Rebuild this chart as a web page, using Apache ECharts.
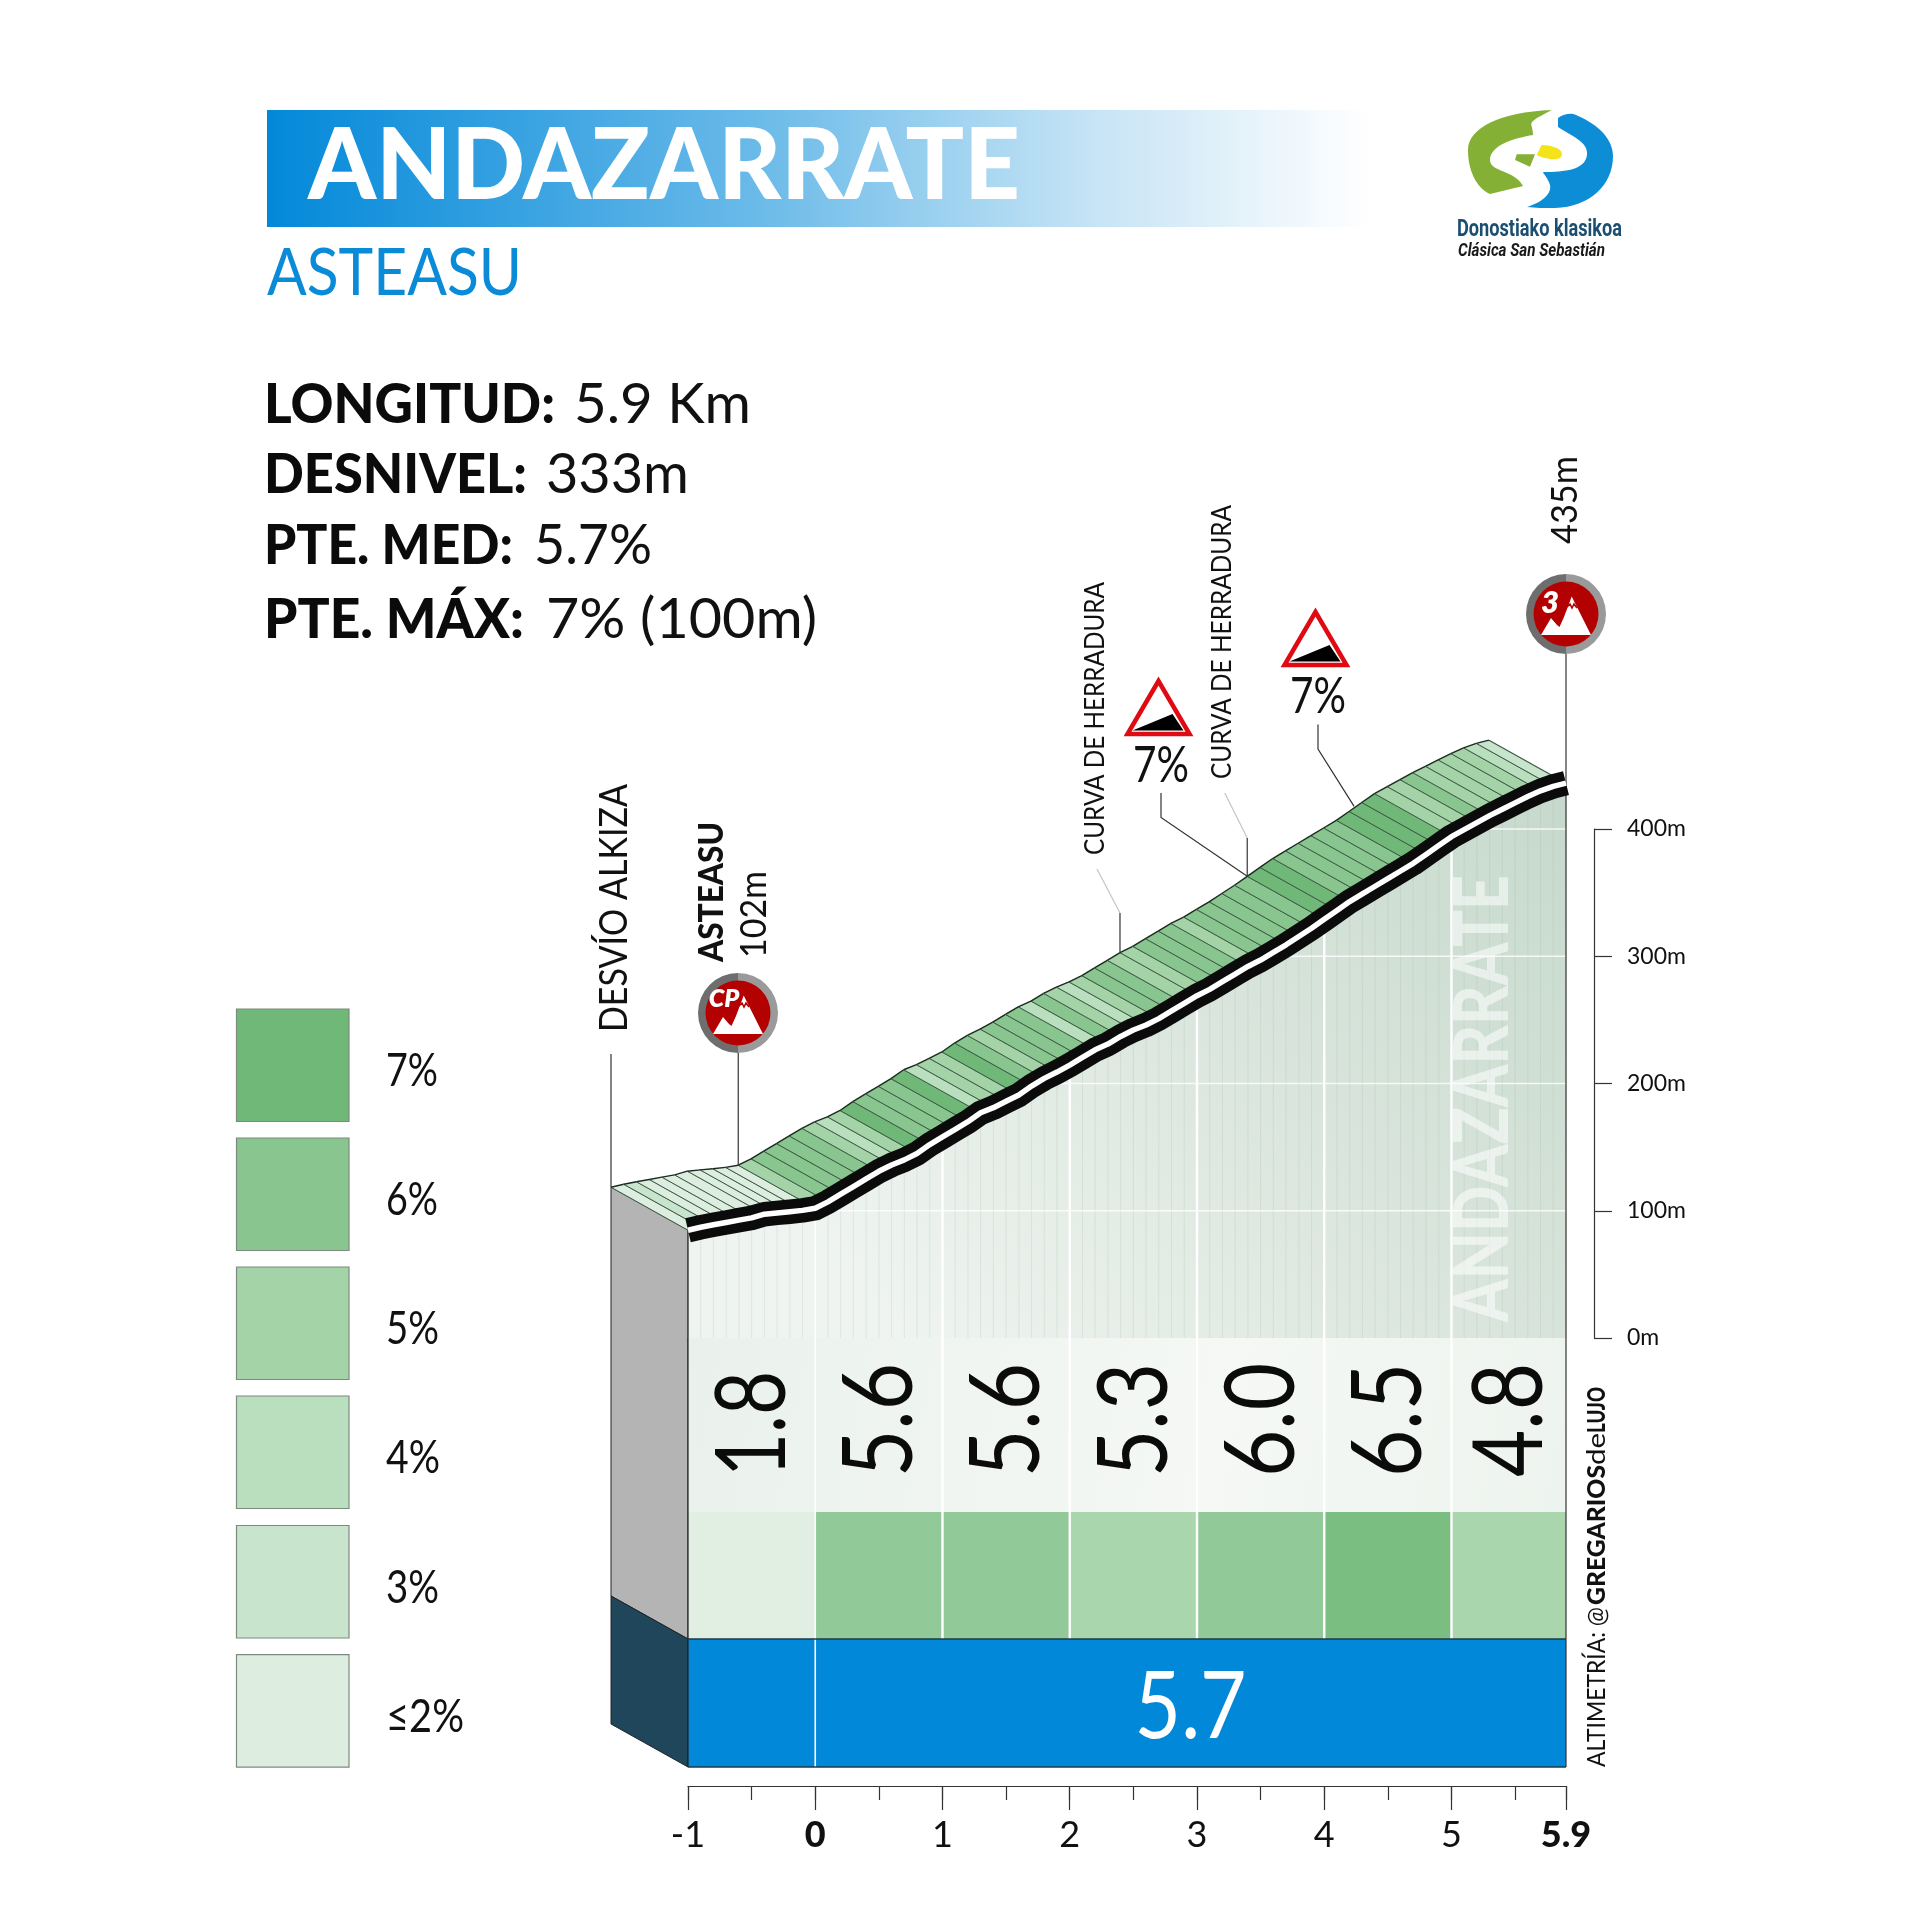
<!DOCTYPE html>
<html><head><meta charset="utf-8">
<style>html,body{margin:0;padding:0;background:#fff}#c{width:1920px;height:1920px}</style>
<script src="https://cdn.jsdelivr.net/npm/echarts@6/dist/echarts.min.js"></script>
</head><body><div id="c"></div>
<script>
const kmPoints = [-1,-0.9,-0.8,-0.7,-0.6,-0.5,-0.4,-0.3,-0.2,-0.1,
 0,0.1,0.2,0.3,0.4,0.5,0.6,0.7,0.8,0.9,
 1,1.1,1.2,1.3,1.4,1.5,1.6,1.7,1.8,1.9,
 2,2.1,2.2,2.3,2.4,2.5,2.6,2.7,2.8,2.9,
 3,3.1,3.2,3.3,3.4,3.5,3.6,3.7,3.8,3.9,
 4,4.1,4.2,4.3,4.4,4.5,4.6,4.7,4.8,4.9,
 5,5.1,5.2,5.3,5.4,5.5,5.6,5.7,5.8,5.9];
const elevations = [84.7,87,89,90.8,92.6,94.4,97.3,98.3,99.2,100.3,
 102,107,113,119,125,131,136,140,145,152,
 158,164,170,177,181,186,191,198,204,209,
 214.5,220.5,226.5,231,237,242,246,251,257,263,
 269,274,280,286,292,297,303,309,315.5,322,
 329,336,343,349,355,361,367,373,380,387,
 394,399.5,405,410.5,415.5,420.5,425.5,430,433.5,436];
const stripGrades = [2,3,2,2,2,2,2,2,2,2,
 5,6,6,6,6,5,4,5,7,6,
 6,6,7,4,5,5,7,6,5,6,
 6,6,4,6,5,4,5,6,6,5,
 5,6,6,6,5,6,6,6,6,6,
 7,7,6,6,6,6,6,7,7,7,
 5,5,6,5,5,5,5,4,3];
const blockStart = [-1,0,1,2,3,4,5];
const blockEnd = [0,1,2,3,4,5,5.9];
const blockValues = ['1.8','5.6','5.6','5.3','6.0','6.5','4.8'];
const blockClass = [2,6,6,5,6,7,5];
const averageLabel = '5.7';
const xTickLabels = ['-1','0','1','2','3','4','5','5.9'];
const legendClass = [7,6,5,4,3,2];
const legendLabels = ['7%','6%','5%','4%','3%','≤2%'];
const gradeColor = {2:'#ddeee0',3:'#c8e4cc',4:'#badfbf',5:'#a3d3a6',6:'#88c58f',7:'#70b877'};
const elevationLevels = [100,200,300,400];
const kmLines = [0,1,2,3,4,5];

const BOLD='Lato', LIGHT='Lato';
const mctx=document.createElement('canvas').getContext('2d');
function fit(text,font,len){mctx.font=font;return len/mctx.measureText(text).width;}
function T(text,font,fill,x,y,len,rot,align,z){
  return {type:'text',x:x,y:y,rotation:rot||0,scaleX:len?fit(text,font,len):1,silent:true,z:z||50,
    style:{text:text,font:font,fill:fill,textAlign:align||'left',align:align||'left',textVerticalAlign:'middle',verticalAlign:'middle'}};
}
const UP=Math.PI/2, DX=-77, DY=-43;
const Y_PANEL_TOP=1512, Y_BLUE_TOP=1639, Y_BLUE_BOTTOM=1767;

function badge(cx,cy,label,lx,ly,size){
  const out=[
   {type:'sector',shape:{cx,cy,r:40,r0:32,startAngle:Math.PI/2,endAngle:Math.PI*1.5},style:{fill:'#6e6e6e'},z:40},
   {type:'sector',shape:{cx,cy,r:40,r0:32,startAngle:-Math.PI/2,endAngle:Math.PI/2},style:{fill:'#9a9a9a'},z:40},
   {type:'circle',shape:{cx,cy,r:32.5},style:{fill:'#b30000'},z:41},
   {type:'polygon',shape:{points:[[cx-25,cy+21],[cx-15,cy+4],[cx-9,cy+11],[cx-6.5,cy+13],[cx-2,cy+3],[cx+5.7,cy-17.5],[cx+25,cy+21]]},style:{fill:'#fff'},z:42},
   {type:'polyline',shape:{points:[[cx+1,cy-7],[cx+4,cy-10],[cx+6,cy-6],[cx+8,cy-10],[cx+11,cy-6]]},style:{stroke:'#b30000',lineWidth:1.6,fill:'none'},z:43},
   {type:'text',x:cx+lx,y:cy+ly,silent:true,z:44,style:{text:label,font:'italic 800 '+size+'px '+BOLD,fill:'#fff',textAlign:'center',align:'center',textVerticalAlign:'middle',verticalAlign:'middle'}}
  ];
  return out;
}
function sign(cx,ay,txt){
  return [
   {type:'polygon',shape:{points:[[cx,ay+4],[cx-31,ay+57],[cx+31,ay+57]]},style:{fill:'#fff',stroke:'#e00b12',lineWidth:4.5,lineJoin:'miter'},z:40},
   {type:'polygon',shape:{points:[[cx-26,ay+53.6],[cx+14,ay+37],[cx+25,ay+53.6]]},style:{fill:'#000'},z:41},
   T(txt,'400 50px '+LIGHT,'#111',cx+2.5,ay+89,56,0,'center')
  ];
}
const graphics=[
 {type:'rect',shape:{x:267,y:110,width:1103,height:117},silent:true,z:1,
  style:{fill:{type:'linear',x:0,y:0,x2:1,y2:0,colorStops:[{offset:0,color:'#0288d9'},{offset:0.45,color:'#6cbbe9'},{offset:0.75,color:'#c6e4f5'},{offset:1,color:'#ffffff'}]}}},
 T('ANDAZARRATE','900 100px '+BOLD,'#fff',308,167,712),
 T('ASTEASU','400 65px '+LIGHT,'#0a8bd8',267,274,255),
 T('LONGITUD:','900 56px '+BOLD,'#0b0b0b',264,405,291),
 T('5.9 Km','400 56px '+LIGHT,'#111',574,405,177),
 T('DESNIVEL:','900 56px '+BOLD,'#0b0b0b',264,475,263),
 T('333m','400 56px '+LIGHT,'#111',546,475,143),
 T('PTE. MED:','900 56px '+BOLD,'#0b0b0b',264,546,249),
 T('5.7%','400 56px '+LIGHT,'#111',534,546,118),
 T('PTE. MÁX:','900 56px '+BOLD,'#0b0b0b',264,620,260),
 T('7% (100m)','400 56px '+LIGHT,'#111',546,620,271),
 T('Donostiako klasikoa','700 24px Roboto','#1b4f72',1457,230,165),
 T('Clásica San Sebastián','italic 700 19px Roboto','#1a1a1a',1458,251,147),
 // marker labels
 T('DESVÍO ALKIZA','400 38px '+LIGHT,'#111',615,1032,248,UP),
 T('ASTEASU','900 34px '+BOLD,'#111',712,962,140,UP),
 T('102m','400 37px '+LIGHT,'#111',754,958,87,UP),
 T('435m','400 37px '+LIGHT,'#111',1565,544,88,UP),
 T('CURVA DE HERRADURA','400 27px '+LIGHT,'#111',1095,855,273,UP),
 T('CURVA DE HERRADURA','400 27px '+LIGHT,'#111',1222,779,274,UP),
 ...badge(738,1013,'CP',-14,-14,25),
 ...badge(1566,614,'3',-16,-11,31),
 ...sign(1158.5,677,'7%'),
 ...sign(1315.5,608,'7%'),
 T('ALTIMETRÍA: @','400 25px '+LIGHT,'#111',1597,1767,160,UP),
 T('GREGARIOS','900 25px '+BOLD,'#111',1597,1605,140,UP),
 T('de','400 25px '+LIGHT,'#111',1597,1465,32,UP),
 T('LUJO','900 25px '+BOLD,'#111',1597,1433,46,UP),
];
// legend
legendClass.forEach((c,i)=>{
  const top=[1009,1138,1267,1396,1525.5,1654.6][i];
  graphics.push({type:'rect',shape:{x:236.5,y:top,width:112.5,height:112.5},style:{fill:gradeColor[c],stroke:'#7d8a7f',lineWidth:1.2},z:5});
  const lens=[52,52,53,54,53,78];
  graphics.push(T(legendLabels[i],'400 46px '+LIGHT,'#111',386,top+62.5,lens[i]));
});

const stripData = stripGrades.map((g,i)=>[kmPoints[i],elevations[i],kmPoints[i+1],elevations[i+1],g]);

const logoShapes=[
 {d:'M1551.7 110 C1500 112,1468 128,1468 150 C1468 175,1480 190,1490 194 L1523 186 C1515 170,1490 172,1490 160 C1490 145,1515 138,1533 135 C1533 128,1530 125,1532 122 C1537 117,1545 114,1551.7 110 Z',c:'#84b135'},
 {d:'M1558 118 C1565 113,1572 113,1576 115 C1600 125,1613 140,1613 156 C1613 185,1590 207,1555 208 C1545 208,1535 208,1527 207 C1540 203,1552 195,1550 185 C1548 178,1544 175,1543 172 C1565 172,1585 170,1587 155 C1589 142,1570 135,1558 127 Z',c:'#0c8dd6'},
 {d:'M1541.7 145 C1550 145,1562 148,1562 154 C1562 159,1555 160,1550 159 C1545 158,1540 157,1536.7 155 Z',c:'#f5e31a'},
 {d:'M1516.7 154.3 L1535 154.3 L1530 166.7 L1515 160 Z',c:'#84b135'}
];

const series=[
 // logo artwork
 {type:'custom',silent:true,clip:false,data:[[0]],
  renderItem:()=>({type:'group',children:logoShapes.map(s=>({type:'path',shape:{pathData:s.d},style:{fill:s.c}}))})},
 // side wall
 {type:'custom',silent:true,clip:false,
  data:[[kmPoints[0],elevations[0]]],
  renderItem:(p,api)=>{const a=api.coord([api.value(0),api.value(1)]);const x=a[0],y=a[1];
   return {type:'group',children:[
    {type:'polygon',shape:{points:[[x,y],[x+DX,y+DY],[x+DX,Y_BLUE_TOP+DY],[x,Y_BLUE_TOP]]},style:{fill:'#b4b4b4',stroke:'#222',lineWidth:1}},
    {type:'polygon',shape:{points:[[x,Y_BLUE_TOP],[x+DX,Y_BLUE_TOP+DY],[x+DX,Y_BLUE_BOTTOM+DY],[x,Y_BLUE_BOTTOM]]},style:{fill:'#20465c',stroke:'#222',lineWidth:1}}
   ]};}},
 // hatched ribbon
 {type:'custom',silent:true,clip:false,data:stripData,encode:{x:0,y:1},
  renderItem:(p,api)=>{const a=api.coord([api.value(0),api.value(1)]),b=api.coord([api.value(2),api.value(3)]);
   return {type:'group',children:[
    {type:'polygon',shape:{points:[a,b,[b[0]+DX,b[1]+DY],[a[0]+DX,a[1]+DY]]},style:{fill:gradeColor[api.value(4)],stroke:gradeColor[api.value(4)],lineWidth:0.4}},
    {type:'line',shape:{x1:a[0],y1:a[1],x2:a[0]+DX,y2:a[1]+DY},style:{stroke:'#3d5a45',lineWidth:1}},
    {type:'line',shape:{x1:b[0],y1:b[1],x2:b[0]+DX,y2:b[1]+DY},style:{stroke:'#3d5a45',lineWidth:p.dataIndex===stripData.length-1?1.2:1}},
    {type:'line',shape:{x1:a[0]+DX,y1:a[1]+DY,x2:b[0]+DX,y2:b[1]+DY},style:{stroke:'#1c2a1f',lineWidth:1.4}}
   ]};}},
 // area under the profile
 {type:'custom',silent:true,clip:false,data:stripData,encode:{x:0,y:1},
  renderItem:(p,api)=>{const a=api.coord([api.value(0),api.value(1)]),b=api.coord([api.value(2),api.value(3)]);
   const a0=api.coord([api.value(0),0]),b0=api.coord([api.value(2),0]);
   const grad={type:'linear',global:true,x:1566,y:790,x2:900,y2:1338,colorStops:[{offset:0,color:'#c6d9cc'},{offset:0.5,color:'#dbe6de'},{offset:1,color:'#eff4f0'}]};
   return {type:'group',children:[
    {type:'polygon',shape:{points:[a,b,b0,a0]},style:{fill:grad,stroke:grad,lineWidth:0.5}},
    {type:'line',shape:{x1:a[0],y1:a[1],x2:a0[0],y2:a0[1]},style:{stroke:'rgba(110,140,118,0.14)',lineWidth:1}}
   ]};}},
 // blue band
 {type:'custom',silent:true,clip:false,data:[[-1,5.9]],encode:{x:[0,1]},
  renderItem:(p,api)=>{const x0=api.coord([api.value(0),0])[0],x1=api.coord([api.value(1),0])[0];
   return {type:'rect',shape:{x:x0,y:Y_BLUE_TOP,width:x1-x0,height:Y_BLUE_BOTTOM-Y_BLUE_TOP},style:{fill:'#0288d9'}};}},
 // panel and grade blocks
 {type:'custom',silent:true,clip:false,data:blockValues.map((v,i)=>[blockStart[i],blockEnd[i],blockClass[i]]),encode:{x:0},
  renderItem:(p,api)=>{
   const x0=api.coord([api.value(0),0])[0],x1=api.coord([api.value(1),0])[0],y0=api.coord([0,0])[1];
   const font='400 97px '+LIGHT,txt=blockValues[p.dataIndex];
   return {type:'group',children:[
    {type:'rect',shape:{x:x0,y:y0,width:x1-x0,height:Y_PANEL_TOP-y0},style:{fill:{type:'linear',global:true,x:688,y:y0,x2:1566,y2:Y_PANEL_TOP,colorStops:[{offset:0,color:'#eaf1ec'},{offset:0.6,color:'#f5f8f5'},{offset:1,color:'#edf3ee'}]}}},
    {type:'rect',shape:{x:x0,y:Y_PANEL_TOP,width:x1-x0,height:Y_BLUE_TOP-Y_PANEL_TOP},style:{fill:gradeColor[api.value(2)],opacity:0.92}},
    {type:'text',x:(x0+x1)/2+2,y:1477,rotation:UP,scaleX:fit(txt,font,txt==='1.8'?106:114),style:{text:txt,font:font,fill:'#0b0b0b',align:'left',verticalAlign:'middle',textAlign:'left',textVerticalAlign:'middle'}}
   ]};}},
 // elevation lines
 {type:'custom',silent:true,clip:false,data:elevationLevels.map(v=>[v]),encode:{y:0},
  renderItem:(p,api)=>{const v=api.value(0);let k=kmPoints[0];
   for(let i=0;i<kmPoints.length-1;i++){if(elevations[i]<=v&&elevations[i+1]>v){k=kmPoints[i]+(v-elevations[i])/(elevations[i+1]-elevations[i])*0.1;break;}}
   const a=api.coord([k,v]),b=api.coord([5.9,v]);
   return {type:'line',shape:{x1:a[0],y1:a[1],x2:b[0],y2:b[1]},style:{stroke:'rgba(255,255,255,0.8)',lineWidth:1.6}};}},
 // km lines
 {type:'custom',silent:true,clip:false,data:kmLines.map(k=>[k]),encode:{x:0},
  renderItem:(p,api)=>{const k=api.value(0),e=elevations[kmPoints.indexOf(k)];const a=api.coord([k,e]);
   return {type:'line',shape:{x1:a[0],y1:a[1],x2:a[0],y2:k===0?Y_BLUE_BOTTOM:Y_BLUE_TOP},style:{stroke:'#fff',lineWidth:k===0?1.6:2.4}};}},
 // frame and average label
 {type:'custom',silent:true,clip:false,data:[[2.95]],encode:{x:0},
  renderItem:(p,api)=>{const c=api.coord([api.value(0),0])[0],l=api.coord([-1,elevations[0]]),r=api.coord([5.9,elevations[69]]);
   const font='400 93px '+LIGHT;
   return {type:'group',children:[
    {type:'line',shape:{x1:l[0],y1:l[1],x2:l[0],y2:Y_BLUE_BOTTOM},style:{stroke:'#222',lineWidth:1.2}},
    {type:'line',shape:{x1:l[0],y1:Y_BLUE_TOP,x2:r[0],y2:Y_BLUE_TOP},style:{stroke:'#1d3a4a',lineWidth:1.6}},
    {type:'line',shape:{x1:l[0],y1:Y_BLUE_BOTTOM,x2:r[0],y2:Y_BLUE_BOTTOM},style:{stroke:'#1d3a4a',lineWidth:1.6}},
    {type:'line',shape:{x1:r[0],y1:654,x2:r[0],y2:Y_BLUE_BOTTOM},style:{stroke:'#333',lineWidth:1.2}},
    {type:'text',x:c,y:1708,scaleX:fit(averageLabel,font,112),style:{text:averageLabel,font:font,fill:'#fff',align:'center',verticalAlign:'middle',textAlign:'center',textVerticalAlign:'middle'}}
   ]};}},
 // watermark
 {type:'custom',silent:true,clip:false,data:[[5.25]],encode:{x:0},
  renderItem:(p,api)=>{const c=api.coord([api.value(0),0]);const font='900 76px '+BOLD;
   return {type:'text',x:c[0],y:1322,rotation:UP,scaleX:fit('ANDAZARRATE',font,447),style:{text:'ANDAZARRATE',font:font,fill:'rgba(255,255,255,0.55)',align:'left',verticalAlign:'middle',textAlign:'left',textVerticalAlign:'middle'}};}},
 // leader lines, anchored to the back edge of the ribbon
 {type:'custom',silent:true,clip:false,data:[[-1,84.7,0],[0,102,1],[3,269,2],[4,329,3],[4,329,4],[4.84,384,5]],encode:{x:0,y:1},
  renderItem:(p,api)=>{const a=api.coord([api.value(0),api.value(1)]),x=a[0]+DX,y=a[1]+DY;
   const dark={stroke:'#333',lineWidth:1.2,fill:'none'},grey={stroke:'#c4c4c4',lineWidth:1.2,fill:'none'};
   const poly=(pts,s)=>({type:'polyline',shape:{points:pts},style:s});
   switch(api.value(2)){
    case 0:return poly([[x,y],[x,1054]],dark);
    case 1:return poly([[x,y],[x,1053]],dark);
    case 2:return {type:'group',children:[poly([[x,y],[x,913]],dark),poly([[x,913],[x-23,869]],grey)]};
    case 3:return {type:'group',children:[poly([[x,y],[x,838]],dark),poly([[x,838],[x-22.5,793]],grey)]};
    case 4:return poly([[x,y],[1161,817.5],[1161,793]],dark);
    default:return poly([[x,y],[1318,749],[1318,724.5]],dark);
   }}},
 {type:'line',silent:true,clip:false,showSymbol:false,z:3,data:kmPoints.map((k,i)=>[k,elevations[i]]),lineStyle:{color:'#0b0b0b',width:24.5,cap:'butt',join:'round'}},
 {type:'line',silent:true,clip:false,showSymbol:false,z:4,data:kmPoints.map((k,i)=>[k,elevations[i]]),lineStyle:{color:'#ffffff',width:5.5,cap:'butt',join:'round'}},
];
series.forEach(s=>{s.animation=false;s.xAxisIndex=0;s.yAxisIndex=0;if(s.type==='custom'){s.coordinateSystem='cartesian2d';}});

const chart=echarts.init(document.getElementById('c'),null,{renderer:'canvas',width:1920,height:1920});
chart.setOption({
 animation:false,backgroundColor:'#fff',
 grid:{left:688,top:829,width:878,height:509,containLabel:false},
 xAxis:[
  {type:'value',min:-1,max:5.9,interval:1,position:'bottom',offset:448,splitLine:{show:false},
   axisLine:{show:true,onZero:false,lineStyle:{color:'#333',width:1.2}},
   axisTick:{show:true,length:24,lineStyle:{color:'#333',width:1.2}},
   axisLabel:{show:true,margin:31,hideOverlap:false,showMinLabel:true,showMaxLabel:true,
     formatter:(v)=>{const i=[-1,0,1,2,3,4,5,5.9].indexOf(+v);const t=xTickLabels[i];return (t==='0'||t==='5.9')?'{b|'+t+'}':'{a|'+t+'}';},
     rich:{a:{fontFamily:LIGHT,fontWeight:400,fontSize:36,color:'#111'},b:{fontFamily:BOLD,fontWeight:900,fontSize:36,color:'#111'}}}},
  {type:'value',min:-1,max:5.9,interval:0.5,position:'bottom',offset:448,splitLine:{show:false},
   axisLine:{show:false,onZero:false},axisTick:{show:true,length:14,lineStyle:{color:'#333',width:1.2}},axisLabel:{show:false}}
 ],
 yAxis:{type:'value',min:0,max:400,interval:100,position:'right',offset:28,splitLine:{show:false},
  axisLine:{show:true,onZero:false,lineStyle:{color:'#333',width:1.2}},
  axisTick:{show:true,length:18,lineStyle:{color:'#333',width:1.2}},
  axisLabel:{show:true,margin:33,formatter:'{value}m',fontFamily:LIGHT,fontWeight:400,fontSize:23,color:'#111'}},
 graphic:{elements:graphics},
 series:series
});
</script></body></html>
